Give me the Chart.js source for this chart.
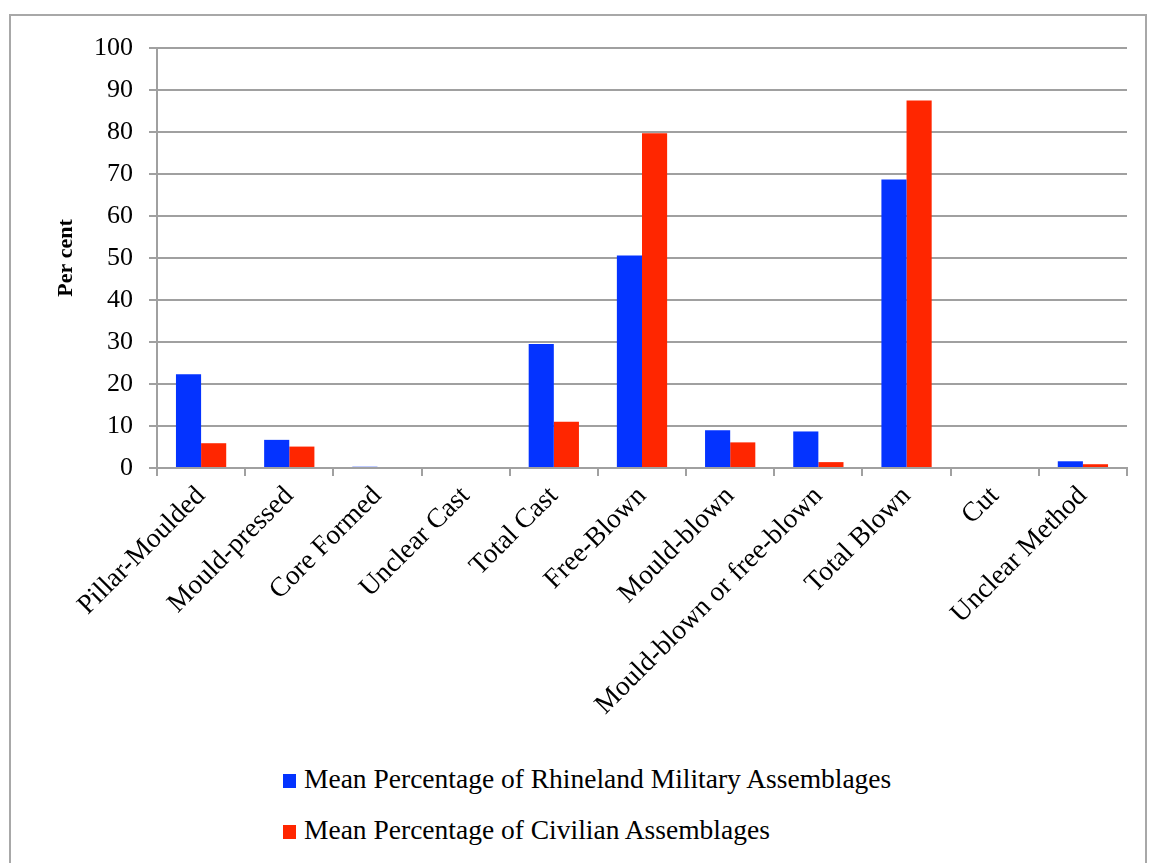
<!DOCTYPE html>
<html>
<head>
<meta charset="utf-8">
<script src="https://cdn.jsdelivr.net/npm/chart.js@4/dist/chart.umd.min.js"></script>
<style>
  body { margin: 0; background: #fff; }
  #frame { position: absolute; left: 9px; top: 14px; width: 1138px; height: 860px; border: 2px solid #a8a8a8; box-sizing: border-box; }
  #wrap { position: absolute; left: 0; top: 0; width: 1149px; height: 740px; }
  #legend { position: absolute; left: 283px; top: 763px; font-family: "Liberation Serif", serif; font-size: 27.5px; color: #000; }
  .item { height: 51px; display: flex; align-items: flex-start; }
  .box { width: 13px; height: 14px; margin-top: 11px; margin-right: 8px; }
</style>
</head>
<body>
<div id="frame"></div>
<div id="wrap"><canvas id="chart"></canvas></div>
<div id="legend"></div>
<script>
const categories = ['Pillar-Moulded', 'Mould-pressed', 'Core Formed', 'Unclear Cast', 'Total Cast', 'Free-Blown',
  'Mould-blown', 'Mould-blown or free-blown', 'Total Blown', 'Cut', 'Unclear Method'];
const military = [22.3, 6.7, 0.3, 0, 29.5, 50.6, 9.0, 8.7, 68.7, 0, 1.6];
const civilian = [5.9, 5.1, 0, 0, 11.0, 79.7, 6.1, 1.4, 87.5, 0, 0.9];
const seriesNames = ['Mean Percentage of Rhineland Military Assemblages', 'Mean Percentage of Civilian Assemblages'];
const seriesColors = ['#0433ff', '#ff2600'];

const serif = '"Liberation Serif", serif';
const gridColor = '#a0a0a0';

const ctx = document.getElementById('chart').getContext('2d');
const chart = new Chart(ctx, {
    type: 'bar',
    data: {
        labels: categories,
        datasets: [
            { label: seriesNames[0], data: military, backgroundColor: seriesColors[0] },
            { label: seriesNames[1], data: civilian, backgroundColor: seriesColors[1] }
        ]
    },
    options: {
        responsive: true,
        maintainAspectRatio: false,
        animation: false,
        datasets: { bar: { categoryPercentage: 0.57, barPercentage: 1.0 } },
        layout: { padding: { top: 48, right: 22, bottom: 0, left: 0 } },
        plugins: {
            legend: { display: false },
            tooltip: { enabled: false }
        },
        scales: {
            x: {
                offset: true,
                grid: { offset: true, drawOnChartArea: false, drawTicks: true, tickLength: 8, color: gridColor, lineWidth: 2 },
                border: { color: gridColor, width: 2 },
                ticks: { color: '#000', font: { family: serif, size: 27.5 }, minRotation: 45, maxRotation: 45, padding: 4, autoSkip: false },
                afterFit(scale) { scale.height = 272; }
            },
            y: {
                min: 0,
                max: 100,
                ticks: { stepSize: 10, color: '#000', font: { family: serif, size: 26 }, padding: 16 },
                grid: { color: gridColor, lineWidth: 2, tickLength: 8 },
                border: { color: gridColor, width: 2 },
                title: { display: true, text: 'Per cent', color: '#000', font: { family: serif, size: 22, weight: 'bold' }, padding: { top: 53, bottom: 0 } },
                afterFit(scale) { scale.width = 157; }
            }
        }
    }
});

const legend = document.getElementById('legend');
chart.data.datasets.forEach(ds => {
    const div = document.createElement('div');
    div.className = 'item';
    div.innerHTML = `<span class="box" style="background:${ds.backgroundColor}"></span><span>${ds.label}</span>`;
    legend.appendChild(div);
});
</script>
</body>
</html>
